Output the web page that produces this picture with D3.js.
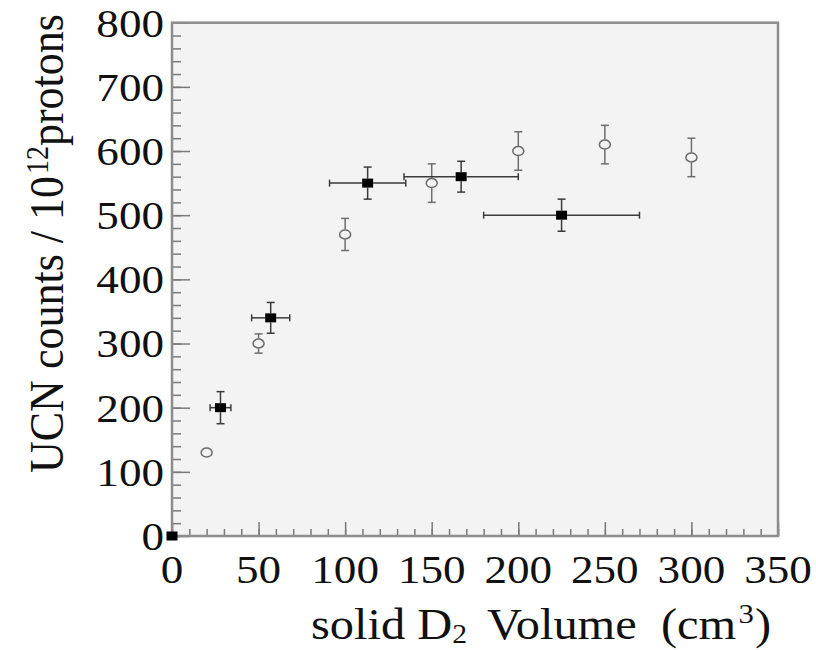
<!DOCTYPE html>
<html>
<head>
<meta charset="utf-8">
<script src="https://cdn.jsdelivr.net/npm/d3@7"></script>
<style>
  html, body { margin: 0; padding: 0; background: #fff; }
  svg text { font-family: "Liberation Serif", "Times New Roman", Times, serif; fill: #111; white-space: pre; }
</style>
</head>
<body>
<svg id="chart" width="816" height="650"></svg>
<script>
// ---- data ----
const filledX    = [0, 28, 57, 113, 167, 225];
const filledY    = [0, 200, 340, 550, 560, 500];
const filledXErr = [0, 6, 11, 22, 33, 45];
const filledYErr = [0, 25, 24, 25, 24, 25];

const openX    = [20, 50, 100, 150, 200, 250, 300];
const openY    = [130, 300, 470, 550, 600, 610, 590];
const openYErr = [5, 15, 25, 30, 30, 30, 30];

const xTickLabels = [0, 50, 100, 150, 200, 250, 300, 350];
const yTickLabels = [0, 100, 200, 300, 400, 500, 600, 700, 800];

// ---- layout ----
const L = 172, R = 778, T = 22.7, B = 536;
const SX = 1.1; // horizontal stretch of the original figure
const svg = d3.select("#chart");
const x = d3.scaleLinear().domain([0, 350]).range([L, R]);
const y = d3.scaleLinear().domain([0, 800]).range([B, T]);

// plot area
svg.append("rect").attr("x", L).attr("y", T).attr("width", R - L).attr("height", B - T)
  .attr("fill", "#f3f3f3");

// ticks (inside)
const tickColor = "#7a7a7a";
function styleAxis(g) {
  g.select(".domain").remove();
  g.selectAll("line").attr("stroke", tickColor).attr("stroke-width", 1.5);
  g.selectAll("text").remove();
}
svg.append("g").attr("transform", `translate(0,${B})`)
  .call(d3.axisBottom(x).tickValues(d3.range(0, 351, 10)).tickSize(-7).tickFormat(""))
  .call(styleAxis);
svg.append("g").attr("transform", `translate(0,${B})`)
  .call(d3.axisBottom(x).tickValues(xTickLabels).tickSize(-14).tickFormat(""))
  .call(styleAxis);
svg.append("g").attr("transform", `translate(${L},0)`)
  .call(d3.axisLeft(y).tickValues(d3.range(0, 801, 20)).tickSize(-9).tickFormat(""))
  .call(styleAxis);
svg.append("g").attr("transform", `translate(${L},0)`)
  .call(d3.axisLeft(y).tickValues(yTickLabels).tickSize(-18).tickFormat(""))
  .call(styleAxis);

// frame
svg.append("rect").attr("x", L).attr("y", T).attr("width", R - L).attr("height", B - T)
  .attr("fill", "none").attr("stroke", "#8c8c8c").attr("stroke-width", 2.5);

// tick labels
yTickLabels.forEach(v => {
  svg.append("g").attr("transform", `translate(${L - 8},${y(v)}) scale(${SX},1)`)
    .append("text").attr("text-anchor", "end").attr("dy", "0.34em")
    .attr("font-size", 41).text(v);
});
xTickLabels.forEach(v => {
  svg.append("g").attr("transform", `translate(${x(v)},583) scale(${SX},1)`)
    .append("text").attr("text-anchor", "middle")
    .attr("font-size", 41).text(v);
});

// axis titles
const xt = svg.append("g").attr("transform", `translate(311,639) scale(${SX},1)`)
  .append("text").attr("font-size", 44);
xt.append("tspan").text("solid D");
xt.append("tspan").attr("font-size", 27).attr("dy", 4).text("2");
xt.append("tspan").attr("dy", -4).attr("dx", 8).text(" Volume  (cm");
xt.append("tspan").attr("font-size", 28).attr("dy", -16).attr("dx", 2).text("3");
xt.append("tspan").attr("dy", 16).attr("dx", 1).text(")");

const yt = svg.append("g").attr("transform", `translate(63,473) rotate(-90) scale(1,${SX})`)
  .append("text").attr("font-size", 44);
yt.append("tspan").text("UCN counts / 10");
yt.append("tspan").attr("font-size", 28).attr("dy", -14).attr("dx", 2).text("12");
yt.append("tspan").attr("dy", 14).text("protons");

// ---- error bars + markers ----
function errorBars(g, xs, ys, xe, ye, halfW, halfH, color) {
  xs.forEach((xv, i) => {
    const cx = x(xv), cy = y(ys[i]);
    const dyPx = ye ? Math.abs(y(ys[i] + ye[i]) - cy) : 0;
    const dxPx = xe ? Math.abs(x(xv + xe[i]) - cx) : 0;
    const line = (x1, y1, x2, y2) => g.append("line")
      .attr("x1", x1).attr("y1", y1).attr("x2", x2).attr("y2", y2)
      .attr("stroke", color).attr("stroke-width", 1.5);
    if (dyPx > halfH + 1) {
      line(cx, cy - halfH, cx, cy - dyPx); line(cx - 4, cy - dyPx, cx + 4, cy - dyPx);
      line(cx, cy + halfH, cx, cy + dyPx); line(cx - 4, cy + dyPx, cx + 4, cy + dyPx);
    }
    if (dxPx > halfW + 1) {
      line(cx - halfW, cy, cx - dxPx, cy); line(cx - dxPx, cy - 3.5, cx - dxPx, cy + 3.5);
      line(cx + halfW, cy, cx + dxPx, cy); line(cx + dxPx, cy - 3.5, cx + dxPx, cy + 3.5);
    }
  });
}

const gOpen = svg.append("g");
errorBars(gOpen, openX, openY, null, openYErr, 6, 5, "#6e6e6e");
gOpen.selectAll("ellipse").data(openX).join("ellipse")
  .attr("cx", d => x(d)).attr("cy", (d, i) => y(openY[i]))
  .attr("rx", 5.5).attr("ry", 4.5)
  .attr("fill", "none").attr("stroke", "#6a6a6a").attr("stroke-width", 1.5);

const gFilled = svg.append("g");
errorBars(gFilled, filledX, filledY, filledXErr, filledYErr, 5.5, 4.5, "#3a3a3a");
gFilled.selectAll("rect").data(filledX).join("rect")
  .attr("x", d => x(d) - 5.5).attr("y", (d, i) => y(filledY[i]) - 4.5)
  .attr("width", 11).attr("height", 9).attr("fill", "#000");
</script>
</body>
</html>
